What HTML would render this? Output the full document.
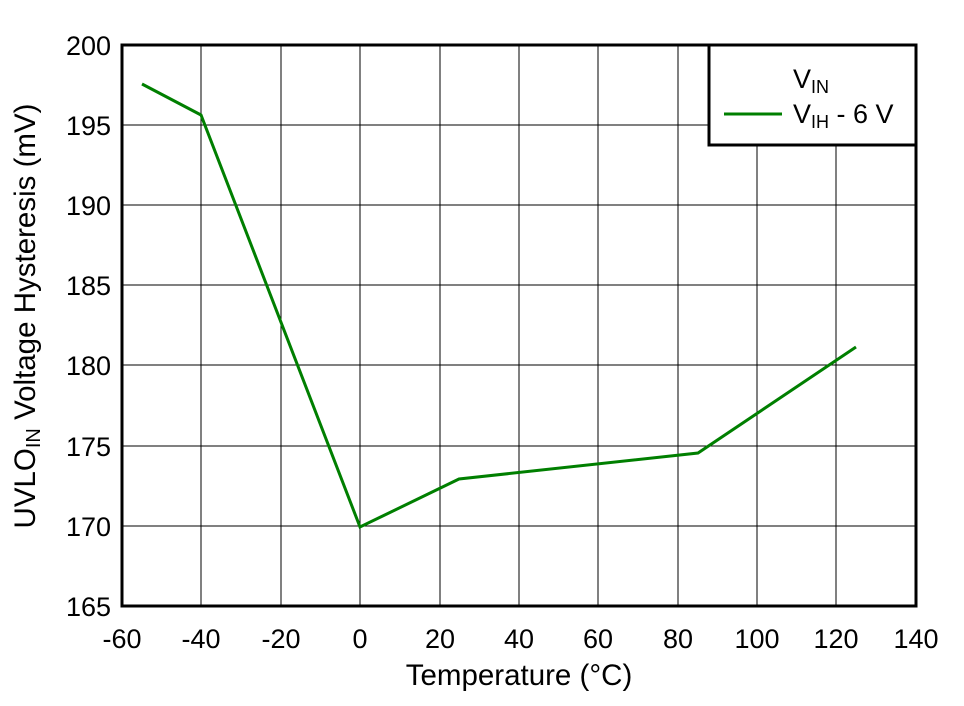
<!DOCTYPE html>
<html><head><style>body{margin:0;background:#fff}</style></head><body>
<svg width="964" height="701" xmlns="http://www.w3.org/2000/svg" font-family="Liberation Sans, Arial, sans-serif">
<rect width="964" height="701" fill="#fff"/>
<g stroke="#000" stroke-width="1">
<line x1="201" y1="45" x2="201" y2="606"/><line x1="281" y1="45" x2="281" y2="606"/><line x1="360" y1="45" x2="360" y2="606"/><line x1="440" y1="45" x2="440" y2="606"/><line x1="519" y1="45" x2="519" y2="606"/><line x1="598" y1="45" x2="598" y2="606"/><line x1="678" y1="45" x2="678" y2="606"/><line x1="757" y1="45" x2="757" y2="606"/><line x1="836" y1="45" x2="836" y2="606"/>
<line x1="122" y1="125" x2="916" y2="125"/><line x1="122" y1="205" x2="916" y2="205"/><line x1="122" y1="285" x2="916" y2="285"/><line x1="122" y1="365" x2="916" y2="365"/><line x1="122" y1="446" x2="916" y2="446"/><line x1="122" y1="526" x2="916" y2="526"/>
</g>
<polyline points="142,84 201,115 360,527 459,479 698,453 856,347" fill="none" stroke="#007f00" stroke-width="3"/>
<rect x="122" y="45" width="794" height="561" fill="none" stroke="#000" stroke-width="3"/>
<rect x="709" y="45" width="207" height="100" fill="#fff" stroke="#000" stroke-width="3"/>
<line x1="724" y1="114" x2="782" y2="114" stroke="#007f00" stroke-width="3"/>
<text x="793" y="88" font-size="27">V<tspan font-size="18" dy="5">IN</tspan></text>
<text x="793" y="123" font-size="27">V<tspan font-size="18" dy="5">IH</tspan><tspan dy="-5"> - 6 V</tspan></text>
<g font-size="27" text-anchor="end">
<text x="111" y="55">200</text><text x="111" y="135">195</text><text x="111" y="215">190</text><text x="111" y="295">185</text><text x="111" y="375">180</text><text x="111" y="456">175</text><text x="111" y="536">170</text><text x="111" y="616">165</text>
</g>
<g font-size="27" text-anchor="middle">
<text x="122" y="648">-60</text><text x="201" y="648">-40</text><text x="281" y="648">-20</text><text x="360" y="648">0</text><text x="440" y="648">20</text><text x="519" y="648">40</text><text x="598" y="648">60</text><text x="678" y="648">80</text><text x="757" y="648">100</text><text x="836" y="648">120</text><text x="916" y="648">140</text>
</g>
<g font-size="29.5" text-anchor="middle">
<text x="519" y="685">Temperature (°C)</text>
<text transform="translate(35,316) rotate(-90)">UVLO<tspan font-size="20" dy="5">IN</tspan><tspan dy="-5"> Voltage Hysteresis (mV)</tspan></text>
</g>
</svg>
</body></html>
